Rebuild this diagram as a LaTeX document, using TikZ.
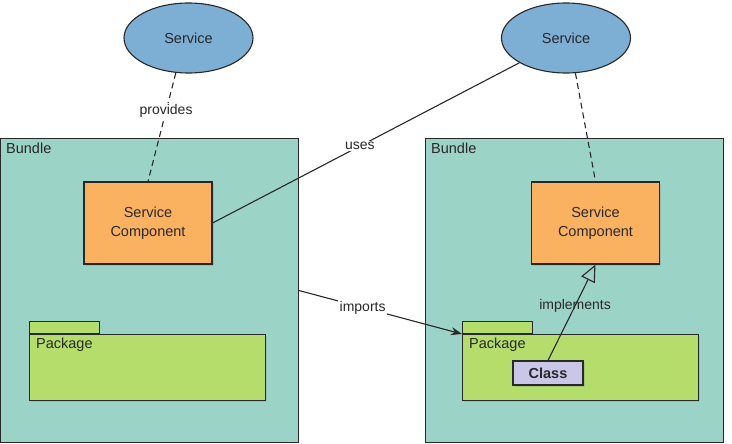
\documentclass[tikz,border=0pt]{standalone}
\usepackage{fontspec}
\setmainfont{Liberation Sans}
\usepackage{xcolor}
\usepackage{tikz}
\usetikzlibrary{calc,arrows.meta,positioning,shapes.geometric,shadows}
\definecolor{osgiBlue}{RGB}{125,174,212}
\definecolor{osgiTeal}{RGB}{156,211,199}
\definecolor{osgiOrange}{RGB}{251,178,96}
\definecolor{osgiGreen}{RGB}{180,221,108}
\definecolor{osgiLilac}{RGB}{201,198,232}
\definecolor{osgiLine}{RGB}{40,40,40}
\definecolor{osgiText}{RGB}{40,40,40}

\begin{document}
\begin{tikzpicture}[x=1pt,y=-1pt,
  every node/.style={font=\fontsize{14.5}{19}\selectfont, text=osgiText},
  service/.style={ellipse, draw=osgiLine, line width=1.1pt, fill=osgiBlue,
    minimum width=129pt, minimum height=70pt},
  bundlebox/.style={rectangle, draw=osgiLine, line width=1.1pt, fill=osgiTeal,
    anchor=north west, minimum width=298pt, minimum height=304pt},
  component/.style={rectangle, draw=osgiLine, line width=1.1pt, fill=osgiOrange,
    minimum width=128pt, minimum height=82pt, align=center,
    drop shadow={shadow xshift=1.5pt, shadow yshift=-1.5pt, opacity=0.25}},
  pkgbody/.style={rectangle, draw=osgiLine, line width=1.1pt, fill=osgiGreen,
    anchor=north west, minimum width=236pt, minimum height=66pt,
    drop shadow={shadow xshift=1.5pt, shadow yshift=-1.5pt, opacity=0.2}},
  pkgtab/.style={rectangle, draw=osgiLine, line width=1.1pt, fill=osgiGreen,
    anchor=south west, minimum width=70pt, minimum height=12pt, inner sep=0pt},
  classbox/.style={rectangle, draw=osgiLine, line width=1.1pt, fill=osgiLilac,
    minimum width=70pt, minimum height=24pt, font=\fontsize{14.5}{17}\bfseries,
    drop shadow={shadow xshift=1.5pt, shadow yshift=-1.5pt, opacity=0.25}},
  boxtitle/.style={anchor=north west, inner sep=0pt},
  tag/.style={inner sep=1.5pt, font=\fontsize{14}{17}\selectfont},
  link/.style={draw=osgiLine, line width=1.1pt}
]
\useasboundingbox (0,0) rectangle (732,444);

% bundles
\foreach \s/\x in {L/0,R/425}
{
  \node[bundlebox] (bundle\s) at (\x,138) {};
  \node[boxtitle] (bundle\s title) at ($(bundle\s.north west)+(6,5)$) {Bundle};
}

% services
\node[service] (svcL) at (188.5,38) {Service};
\node[service] (svcR) at (566,38) {Service};

% components
\node[component] (compL) at (148,223) {Service\\Component};
\node[component] (compR) at (595.5,223) {Service\\Component};

% packages
\foreach \s/\x in {L/29,R/462}
{
  \node[pkgbody] (pkg\s) at (\x,334) {};
  \node[pkgtab] (pkg\s tab) at (pkg\s.north west) {};
  \node[boxtitle] (pkg\s title) at ($(pkg\s.north west)+(7,4)$) {Package};
}
\node[classbox] (classR) at (548,373) {Class};

% relations
\draw[link, dash pattern=on 6pt off 4pt] (svcL.250) -- (compL.north)
  node[tag, pos=0.35, fill=white] {provides};
\draw[link, dash pattern=on 6pt off 4pt] (svcR.285) -- (compR.north);
\draw[link] (compL.east) -- (svcR.208)
  node[tag, pos=0.48, fill=white] {uses};
\draw[link, -{Stealth[length=11pt,width=8pt]}] (bundleL.east) -- (pkgR.north west)
  node[tag, pos=0.39, fill=white] {imports};
\draw[link, -{Triangle[open, length=17pt, width=15pt, fill=osgiTeal]}] (classR.north) -- (compR.south)
  node[tag, pos=0.57] {implements};
\end{tikzpicture}
\end{document}
